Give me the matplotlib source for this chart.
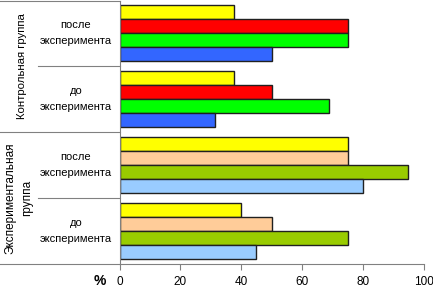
import matplotlib
matplotlib.use("Agg")
import matplotlib.pyplot as plt
import matplotlib.transforms as mtransforms

plt.rcParams['font.family'] = ['Liberation Sans', 'DejaVu Sans']

# slots from bottom to top
stages = ['до\nэксперимента', 'после\nэксперимента', 'до\nэксперимента', 'после\nэксперимента']
groups = ['Экспериментальная\nгруппа', 'Контрольная группа']

# bars within each slot, listed top to bottom
exp_before = [40, 50, 75, 45]
exp_after = [75, 75, 95, 80]
ctrl_before = [37.5, 50, 68.75, 31.25]
ctrl_after = [37.5, 75, 75, 50]
values = [exp_before, exp_after, ctrl_before, ctrl_after]

exp_colors = ['#FFFF00', '#FFCC99', '#99CC00', '#99CCFF']
ctrl_colors = ['#FFFF00', '#FF0000', '#00FF00', '#3366FF']
colors = [exp_colors, exp_colors, ctrl_colors, ctrl_colors]

W, H = 433, 288
fig = plt.figure(figsize=(W / 100, H / 100), dpi=100)
x0, x1, ytop, ybot = 119.5, 423.5, 0.5, 263.5
ax = fig.add_axes([x0 / W, 1 - ybot / H, (x1 - x0) / W, (ybot - ytop) / H])

bh = 0.212
offsets = [0.5 + 1.5 * bh, 0.5 + 0.5 * bh, 0.5 - 0.5 * bh, 0.5 - 1.5 * bh]
for i, (vals, cols) in enumerate(zip(values, colors)):
    for v, c, off in zip(vals, cols, offsets):
        ax.barh(i + off, v, height=bh, color=c, edgecolor='#202020', linewidth=1.0)

ax.set_xlim(0, 100)
ax.set_ylim(0, 4)
ax.set_xticks(range(0, 101, 20))
ax.set_yticks([])
ax.tick_params(axis='x', direction='out', length=4, width=0.8, color='#808080',
               labelsize=8.5, pad=5)
for s in ['top', 'right']:
    ax.spines[s].set_visible(False)
for s in ['left', 'bottom']:
    ax.spines[s].set_color('#808080')
    ax.spines[s].set_linewidth(0.8)

# label area lines on the left
trans = mtransforms.blended_transform_factory(fig.transFigure, ax.transData)
x_left = {0: 0.0, 1: 38 / W, 2: 0.0, 3: 38 / W, 4: 0.0}
for yv, xs in x_left.items():
    ax.plot([xs, x0 / W], [yv, yv], color='#808080', linewidth=0.8,
            transform=trans, clip_on=False)

for i, lab in enumerate(stages):
    ax.text(76 / W, i + 0.5, lab, transform=trans, ha='center', va='center',
            fontsize=8, linespacing=1.75)

ax.text(22 / W, 3.0, groups[1], transform=trans, ha='center', va='center',
        rotation=90, fontsize=8.2)
ax.text(18.5 / W, 1.0, groups[0], transform=trans, ha='center', va='center',
        rotation=90, fontsize=8.5, linespacing=1.55)

fig.text(100 / W, 1 - 281 / H, '%', ha='center', va='center', fontsize=10,
         fontweight='bold')

fig.savefig('out.png', dpi=100)
